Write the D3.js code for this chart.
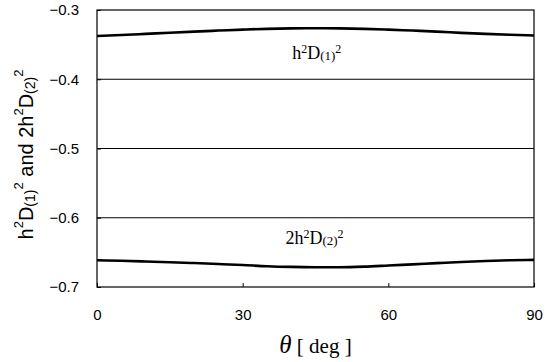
<!DOCTYPE html>
<html>
<head>
<meta charset="utf-8">
<script src="https://cdn.jsdelivr.net/npm/d3@7"></script>
<style>
  body { margin: 0; background: #fff; }
  .tick text { font-family: "Liberation Sans", Arial, sans-serif; font-size: 15px; fill: #000; }
  .lbl { font-family: "Liberation Serif", "DejaVu Serif", serif; font-size: 18px; }
</style>
</head>
<body>
<div id="chart"></div>
<script>
// theta in degrees
const theta = [0, 5, 10, 15, 20, 25, 30, 35, 40, 45, 50, 55, 60, 65, 70, 75, 80, 85, 90];
// h^2 D(1)^2
const d1 = [-0.3376, -0.3362, -0.3345, -0.3328, -0.3312, -0.3297, -0.3283, -0.3272, -0.3266, -0.3264,
            -0.3266, -0.3272, -0.3283, -0.3297, -0.3312, -0.3330, -0.3345, -0.3358, -0.3368];
// 2h^2 D(2)^2
const d2 = [-0.6613, -0.6622, -0.6632, -0.6642, -0.6654, -0.6668, -0.6682, -0.6700, -0.6710, -0.6714,
            -0.6714, -0.6706, -0.6690, -0.6673, -0.6655, -0.6638, -0.6624, -0.6614, -0.6608];
const xTicks = [0, 30, 60, 90];
const yTicks = [-0.3, -0.4, -0.5, -0.6, -0.7];

const width = 554, height = 362;
const margin = { top: 10, right: 20, bottom: 75, left: 97 };
const w = 534 - margin.left, h = 287 - margin.top;

const svg = d3.select('#chart').append('svg')
    .attr('width', width).attr('height', height);
const g = svg.append('g').attr('transform', `translate(${margin.left},${margin.top})`);

const x = d3.scaleLinear().domain([0, 90]).range([0, w]);
const y = d3.scaleLinear().domain([-0.7, -0.3]).range([h, 0]);

// gridlines
g.selectAll('.grid').data(yTicks.slice(1, -1)).enter().append('line')
    .attr('x1', 0).attr('x2', w)
    .attr('y1', d => y(d)).attr('y2', d => y(d))
    .attr('stroke', '#000').attr('stroke-width', 1);

// axes
const fmt = d => d3.format('.1f')(d).replace('-', '\u2212');
g.append('g').call(d3.axisLeft(y).tickValues(yTicks).tickFormat(fmt).tickSize(-4).tickPadding(18))
    .call(a => a.select('.domain').remove())
    .call(a => a.selectAll('line').attr('stroke', '#000'));
g.append('g').attr('transform', `translate(0,${h})`)
    .call(d3.axisBottom(x).tickValues(xTicks).tickSize(-4).tickPadding(22))
    .call(a => a.select('.domain').remove())
    .call(a => a.selectAll('line').attr('stroke', '#000'));

// frame
g.append('rect').attr('width', w).attr('height', h)
    .attr('fill', 'none').attr('stroke', '#000').attr('stroke-width', 1.2);

const line = d3.line().x((d, i) => x(theta[i])).y(d => y(d)).curve(d3.curveMonotoneX);
[d1, d2].forEach(s => {
    g.append('path').datum(s).attr('d', line)
        .attr('fill', 'none').attr('stroke', '#000').attr('stroke-width', 2.6);
});

// curve labels
function curveLabel(tx, ty, pre, sub) {
    const t = g.append('text').attr('class', 'lbl').attr('x', tx).attr('y', ty);
    t.append('tspan').text(pre);
    t.append('tspan').attr('font-size', 12).attr('dy', -6).text('2');
    t.append('tspan').attr('dy', 6).text('D');
    t.append('tspan').attr('font-size', 13).attr('dy', 1).text(sub);
    t.append('tspan').attr('font-size', 12).attr('dy', -7).text('2');
}
curveLabel(x(40.2), y(-0.37) + 1, 'h', '(1)');
curveLabel(x(38.8), y(-0.636) + 1, '2h', '(2)');

// y axis title
const yt = svg.append('text')
    .attr('transform', `translate(33,${margin.top + h / 2 + 6}) rotate(-90)`)
    .attr('text-anchor', 'middle')
    .style('font-family', '"Liberation Sans", Arial, sans-serif').style('font-size', '20px');
yt.append('tspan').text('h');
yt.append('tspan').attr('font-size', 13).attr('dy', -10).text('2');
yt.append('tspan').attr('dy', 10).text('D');
yt.append('tspan').attr('font-size', 14).attr('dy', 2).text('(1)');
yt.append('tspan').attr('font-size', 13).attr('dy', -12).text('2');
yt.append('tspan').attr('dy', 10).text(' and 2h');
yt.append('tspan').attr('font-size', 13).attr('dy', -10).text('2');
yt.append('tspan').attr('dy', 10).text('D');
yt.append('tspan').attr('font-size', 14).attr('dy', 2).text('(2)');
yt.append('tspan').attr('font-size', 13).attr('dy', -12).text('2');

// x axis title
const xt = svg.append('text')
    .attr('x', margin.left + w / 2).attr('y', 353)
    .attr('text-anchor', 'middle')
    .style('font-family', '"Liberation Serif", "DejaVu Serif", serif').style('font-size', '21px');
xt.append('tspan').attr('font-style', 'italic').attr('font-size', 25).text('\u03b8');
xt.append('tspan').text(' [ deg ]');
</script>
</body>
</html>
